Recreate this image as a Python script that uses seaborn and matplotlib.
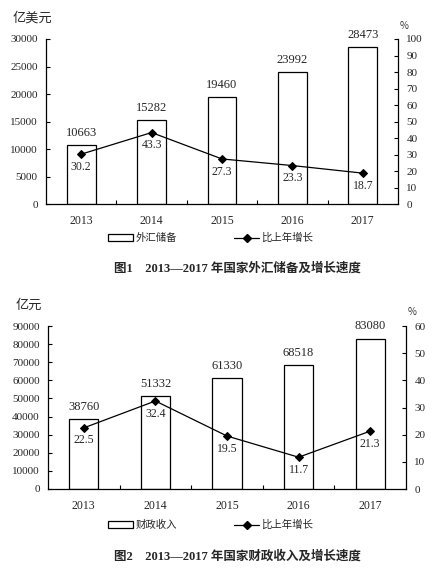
import numpy as np
import pandas as pd
import matplotlib
matplotlib.use("Agg")
import matplotlib.pyplot as plt
import seaborn as sns
from matplotlib.lines import Line2D
from matplotlib.patches import Patch

years = ["2013", "2014", "2015", "2016", "2017"]

# chart 1: foreign exchange reserves
fx_reserves = [10663, 15282, 19460, 23992, 28473]
fx_growth = [30.2, 43.3, 27.3, 23.3, 18.7]

# chart 2: fiscal revenue
fiscal_revenue = [38760, 51332, 61330, 68518, 83080]
fiscal_growth = [22.5, 32.4, 19.5, 11.7, 21.3]

sns.set_theme(style="white")
plt.rcParams['font.family'] = ['Liberation Serif', 'Noto Sans CJK SC']
plt.rcParams['axes.unicode_minus'] = False

W, H = 439, 569
fig = plt.figure(figsize=(W / 100, H / 100), dpi=100)
fig.patch.set_facecolor("white")

cjk = ['Noto Sans CJK SC', 'DejaVu Sans']


def px_axes(left, top, right, bottom):
    return fig.add_axes([left / W, 1 - bottom / H, (right - left) / W, (bottom - top) / H])


def draw_chart(box, bars, growth, ymax, ystep, rmax, rstep, unit, bar_name,
               unit_xy, pct_xy, legend_y, caption, caption_y):
    ax = px_axes(*box)
    df = pd.DataFrame({"year": years, "value": bars})
    sns.barplot(data=df, x="year", y="value", ax=ax, width=0.41,
                color="white", edgecolor="black", linewidth=0.9, saturation=1)
    ax.set_xlim(-0.5, 4.5)
    ax.set_ylim(0, ymax)
    ax.set_yticks(np.arange(0, ymax + 1, ystep))
    ax.set_xlabel("")
    ax.set_ylabel("")
    ax.set_facecolor("white")
    for s in ["left", "bottom"]:
        ax.spines[s].set_color("black")
        ax.spines[s].set_linewidth(0.9)
    ax.spines["top"].set_visible(False)
    ax.spines["right"].set_visible(False)
    ax.tick_params(axis="y", direction="in", length=3, width=0.8, color="black",
                   labelsize=8, pad=6, left=True)
    ax.tick_params(axis="x", which="major", length=0, labelsize=8.5, pad=8)
    ax.set_xticks([0.5, 1.5, 2.5, 3.5], minor=True)
    ax.tick_params(axis="x", which="minor", direction="in", length=3, width=0.8,
                   color="black", bottom=True)
    for i, v in enumerate(bars):
        ax.text(i, v + ymax * 0.038, f"{v}", ha="center", va="bottom", fontsize=9)

    axr = ax.twinx()
    sns.lineplot(x=np.arange(len(years)), y=growth, ax=axr, color="black",
                 linewidth=0.9, marker="D", markersize=3.8,
                 markeredgecolor="black", markerfacecolor="black")
    axr.set_ylim(0, rmax)
    axr.set_yticks(np.arange(0, rmax + 1, rstep))
    axr.set_xlim(-0.5, 4.5)
    axr.spines["right"].set_color("black")
    axr.spines["right"].set_linewidth(0.9)
    for s in ["top", "left", "bottom"]:
        axr.spines[s].set_visible(False)
    axr.tick_params(axis="y", direction="in", length=3, width=0.8, color="black",
                    labelsize=8, pad=6, right=True)
    axr.set_ylabel("")
    for i, g in enumerate(growth):
        axr.text(i, g - rmax * 0.04, f"{g}", ha="center", va="top", fontsize=8.5)

    fig.text(unit_xy[0] / W, 1 - unit_xy[1] / H, unit, family=cjk, fontsize=9.5,
             ha="left", va="center")
    fig.text(pct_xy[0] / W, 1 - pct_xy[1] / H, "%", family=cjk, fontsize=7,
             ha="center", va="center", color="#333333")

    handles = [Patch(facecolor="white", edgecolor="black", linewidth=0.9),
               Line2D([], [], color="black", linewidth=0.9, marker="D", markersize=3.8)]
    fig.legend(handles, [bar_name, "比上年增长"], loc="center",
               bbox_to_anchor=(0.48, 1 - legend_y / H), ncol=2, frameon=False,
               prop={"family": cjk, "size": 7.5}, handlelength=2.4,
               handleheight=0.7, handletextpad=0.2, columnspacing=5.5)

    fig.text(237 / W, 1 - caption_y / H, caption, fontsize=9, fontweight="bold",
             ha="center", va="center")
    return ax, axr


draw_chart((46, 39, 398, 204), fx_reserves, fx_growth, 30000, 5000, 100, 10,
           "亿美元", "外汇储备", (13, 18), (404, 26), 238,
           "图1    2013—2017 年国家外汇储备及增长速度", 268)

draw_chart((48, 326, 406, 489), fiscal_revenue, fiscal_growth, 90000, 10000, 60, 10,
           "亿元", "财政收入", (16, 305), (412, 312), 525,
           "图2    2013—2017 年国家财政收入及增长速度", 556)

fig.savefig("out.png", dpi=100, facecolor="white")
